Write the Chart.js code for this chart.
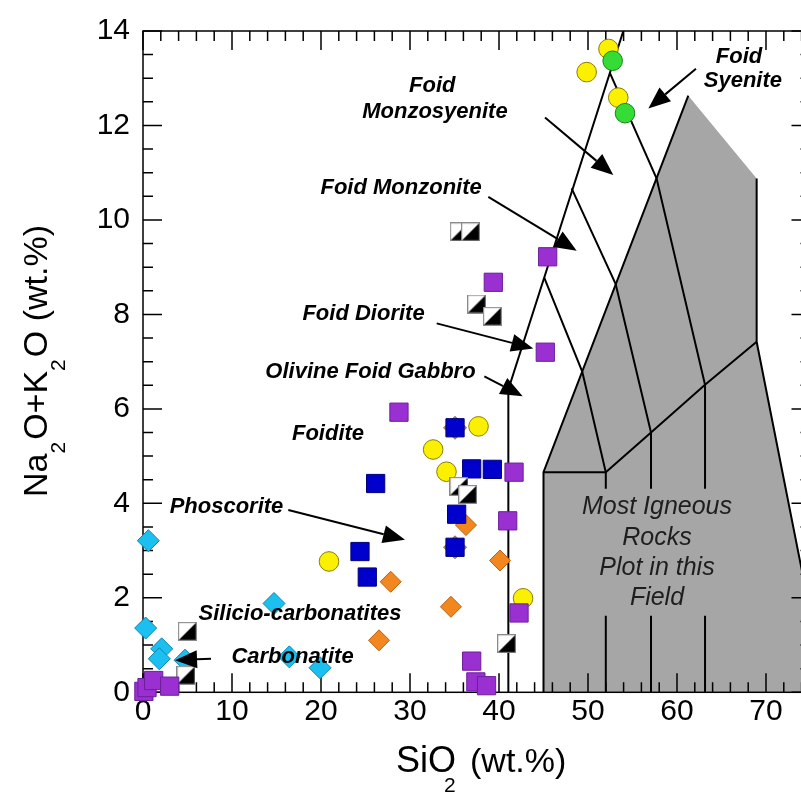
<!DOCTYPE html>
<html><head><meta charset="utf-8">
<script src="https://cdn.jsdelivr.net/npm/chart.js@4.4.1/dist/chart.umd.min.js"></script>
<style>
html,body{margin:0;padding:0;background:#fff;overflow:hidden;}
#wrap{position:relative;width:830px;height:792px;}
</style></head><body>
<div id="wrap"><canvas id="c" width="830" height="792"></canvas></div>
<script>
// ---- tick labels ----
const xTicks = [0,10,20,30,40,50,60,70];
const yTicks = [0,2,4,6,8,10,12,14];

// ---- sample series (SiO2, Na2O+K2O) ----
const yellowCircles = [[20.9,2.77],[32.6,5.14],[34.1,4.67],[37.7,5.63],[42.7,1.99],[49.85,13.13],[52.3,13.62],[53.4,12.59]];
const greenCircles  = [[52.77,13.37],[54.16,12.26]];
const purpleSquares = [[45.47,9.22],[45.2,7.2],[41.69,4.66],[39.36,8.68],[28.76,5.93],[40.98,3.63],[42.25,1.68],[36.93,0.66],[37.4,0.22],[38.6,0.14],[0.1,0.02],[0.45,0.1],[1.2,0.25],[3.0,0.13]];
const blueSquares   = [[35.06,5.6],[36.93,4.73],[39.25,4.72],[26.14,4.42],[35.24,3.77],[35.06,3.07],[24.38,2.98],[25.2,2.44]];
const orangeDiamonds= [[36.29,3.54],[40.11,2.79],[27.83,2.34],[34.6,1.81],[26.52,1.1]];
const brownDiamonds = [[35.06,5.6],[35.06,3.07]];
const cyanDiamonds  = [[0.6,3.21],[0.3,1.36],[2.1,0.92],[1.83,0.71],[4.72,0.68],[14.72,1.88],[16.44,0.75],[19.89,0.52]];
const halfSquares   = [[35.53,9.75],[36.8,9.75],[37.49,8.22],[39.25,7.96],[35.5,4.36],[36.48,4.19],[40.85,1.03],[4.98,1.29],[4.83,0.36]];

// ---- classification field boundaries ----
const fieldLines = [
  [[41.05,0],[41.05,6.41],[53.97,14]],
  [[45.08,8.78],[49.35,6.79],[52.0,4.66]],
  [[48.16,10.67],[53.1,8.65],[57.08,5.5]],
  [[52.47,13.11],[57.7,10.88],[63.15,6.51]],
  [[45,4.66],[52,4.66],[57.08,5.5],[63.15,6.51],[68.95,7.42]],
  [[45,0],[45,4.66],[61.27,12.63]],
  [[68.95,10.88],[68.95,7.42],[76.74,0]],
  [[52,0],[52,1.62]],[[57.08,0],[57.08,1.62]],[[63.15,0],[63.15,1.62]],
  [[52,4.31],[52,4.66]],[[57.08,4.31],[57.08,5.5]],[[63.15,4.31],[63.15,6.51]]
];
const greyField = [[45,4.66],[61.27,12.63],[68.95,10.88],[68.95,7.42],[76.74,0],[45,0]];

// ---- annotations (data units) ----
const regionLabels = [
  ['Foid',66.97,13.46],['Syenite',67.4,12.94],
  ['Foid',32.5,12.84],['Monzosyenite',32.8,12.29],
  ['Foid Monzonite',29.0,10.68],['Foid Diorite',24.78,8.02],
  ['Olivine Foid Gabbro',25.56,6.78],['Foidite',20.79,5.46],
  ['Phoscorite',9.38,3.92],['Silicio-carbonatites',17.64,1.66],
  ['Carbonatite',16.8,0.75]
];
const arrows = [
  [[62.13,13.2],[56.78,12.36]],
  [[45.17,12.17],[52.84,10.95]],
  [[38.8,10.49],[48.73,9.35]],
  [[33.0,7.81],[43.85,7.28]],
  [[38.35,6.69],[42.66,6.27]],
  [[16.33,3.86],[29.44,3.23]],
  [[7.64,0.71],[3.6,0.68]]
];
const fieldNote = [['Most Igneous',57.75,3.93],['Rocks',57.75,3.27],['Plot in this',57.75,2.63],['Field',57.75,1.99]];

const FONT = '"Liberation Sans", Arial, Helvetica, sans-serif';
const pts = a => a.map(p => ({x:p[0], y:p[1]}));

function halfSquareImg(){
  const s = 19, c = document.createElement('canvas'); c.width = s; c.height = s;
  const g = c.getContext('2d');
  g.fillStyle = '#fff'; g.fillRect(0,0,s,s);
  g.fillStyle = '#000'; g.beginPath(); g.moveTo(s-1,1); g.lineTo(s-1,s-1); g.lineTo(1,s-1); g.closePath(); g.fill();
  g.strokeStyle = '#8a8a8a'; g.lineWidth = 1.2; g.strokeRect(0.6,0.6,s-1.2,s-1.2);
  return c;
}

const datasets = [];
datasets.push({type:'line', data:pts(greyField), fill:'shape', backgroundColor:'#a6a6a6', borderWidth:0, pointRadius:0, order:100, isField:true});
fieldLines.forEach(l => datasets.push({type:'line', data:pts(l), borderColor:'#000', borderWidth:2, pointRadius:0, fill:false, tension:0, order:90}));
function scat(data, style, r, bg, bd, order){
  return {type:'scatter', data:pts(data), pointStyle:style, pointRadius:r, pointHoverRadius:r, backgroundColor:bg, borderColor:bd, borderWidth:1, clip:false, order:order};
}
datasets.push(scat(cyanDiamonds,'rectRot',11,'#1cc0f0','#0c86ad',60));
datasets.push(scat(brownDiamonds,'rectRot',11.5,'#a88a74','#8a6a55',58));
datasets.push(scat(orangeDiamonds,'rectRot',10.5,'#f2871f','#b8600e',55));
datasets.push(scat(yellowCircles,'circle',9.8,'#fbf000','#8a7c00',50));
datasets.push(scat(greenCircles,'circle',9.8,'#35dc35','#1c7f1c',45));
datasets.push(scat(blueSquares,'rect',12.9,'#0000cc','#00007a',40));
const hs = halfSquareImg();
datasets.push({type:'scatter', data:pts(halfSquares), pointStyle:hs, pointRadius:9, clip:false, order:35});
datasets.push(scat(purpleSquares,'rect',12.9,'#9a30d2','#6c1f9a',30));

function drawFrame(chart){
  const {ctx, chartArea:a, scales:{x, y}} = chart;
  ctx.save();
  ctx.strokeStyle = '#000'; ctx.lineWidth = 1.5;
  ctx.strokeRect(a.left, a.top, a.right - a.left, a.bottom - a.top);
  ctx.beginPath();
  for (let i = 0; i <= 37; i++) {
    const v = i * 2, px = x.getPixelForValue(v), L = (v % 10 === 0) ? 19 : 10;
    ctx.moveTo(px, a.bottom); ctx.lineTo(px, a.bottom - L);
    ctx.moveTo(px, a.top); ctx.lineTo(px, a.top + L);
  }
  for (let i = 0; i <= 28; i++) {
    const v = i * 0.5, py = y.getPixelForValue(v), L = (i % 4 === 0) ? 19 : 10;
    ctx.moveTo(a.left, py); ctx.lineTo(a.left + L, py);
    ctx.moveTo(a.right, py); ctx.lineTo(a.right - L, py);
  }
  ctx.stroke();
  ctx.restore();
}

function drawArrow(ctx, x0, y0, x1, y1){
  const ang = Math.atan2(y1 - y0, x1 - x0), L = 22, W = 9;
  const bx = x1 - L * Math.cos(ang), by = y1 - L * Math.sin(ang);
  ctx.beginPath(); ctx.moveTo(x0, y0); ctx.lineTo(bx, by); ctx.stroke();
  ctx.beginPath();
  ctx.moveTo(x1, y1);
  ctx.lineTo(bx + W * Math.sin(ang), by - W * Math.cos(ang));
  ctx.lineTo(bx - W * Math.sin(ang), by + W * Math.cos(ang));
  ctx.closePath(); ctx.fill();
}

function drawAnnotations(chart){
  const {ctx, scales:{x, y}} = chart;
  ctx.save();
  ctx.fillStyle = '#000'; ctx.strokeStyle = '#000'; ctx.lineWidth = 2;
  arrows.forEach(a => drawArrow(ctx, x.getPixelForValue(a[0][0]), y.getPixelForValue(a[0][1]), x.getPixelForValue(a[1][0]), y.getPixelForValue(a[1][1])));
  ctx.font = 'italic bold 22px ' + FONT;
  ctx.textAlign = 'center'; ctx.textBaseline = 'middle';
  regionLabels.forEach(l => ctx.fillText(l[0], x.getPixelForValue(l[1]), y.getPixelForValue(l[2])));
  ctx.font = 'italic 25px ' + FONT; ctx.fillStyle = '#1e1e1e';
  fieldNote.forEach(l => ctx.fillText(l[0], x.getPixelForValue(l[1]), y.getPixelForValue(l[2])));
  ctx.restore();
}

function drawTitles(chart){
  const ctx = chart.ctx;
  ctx.save();
  ctx.fillStyle = '#000'; ctx.textBaseline = 'alphabetic'; ctx.textAlign = 'left';
  const big = '34px ' + FONT, small = '21px ' + FONT;
  // x title
  const base = 771.5;
  ctx.font = '36px ' + FONT; ctx.fillText('SiO', 396, base);
  const w1 = ctx.measureText('SiO').width;
  ctx.font = small; ctx.fillText('2', 396 + w1 - 12, base + 20);
  ctx.font = big; ctx.fillText('(wt.%)', 470, base);
  // y title (rotated)
  ctx.translate(47, 497); ctx.rotate(-Math.PI / 2);
  let cx = 0;
  const parts = [['Na',0],['2',1],['O+K',0],['2',1],['O (wt.%)',0]];
  parts.forEach(p => {
    ctx.font = p[1] ? small : big;
    ctx.fillText(p[0], cx, p[1] ? 18 : 0);
    cx += ctx.measureText(p[0]).width + (p[1] ? 2 : 0);
  });
  ctx.restore();
}

const decor = {
  id: 'decor',
  afterDatasetDraw(chart, args){ if (chart.data.datasets[args.index].isField) drawFrame(chart); },
  afterDatasetsDraw(chart){ drawAnnotations(chart); },
  afterDraw(chart){ drawTitles(chart); }
};

new Chart(document.getElementById('c'), {
  type: 'scatter',
  data: { datasets },
  plugins: [decor],
  options: {
    responsive: false, animation: false, events: [],
    layout: { padding: { left: 0, right: 19.5, top: 24.3, bottom: 0 } },
    plugins: { legend: { display: false }, tooltip: { enabled: false } },
    scales: {
      x: {
        type: 'linear', min: 0, max: 75,
        afterBuildTicks: s => { s.ticks = xTicks.map(v => ({ value: v })); },
        afterFit: s => { s.height = 99.7; },
        grid: { display: false, drawTicks: false }, border: { display: false },
        ticks: { font: { family: FONT, size: 30 }, color: '#000', padding: 1, maxRotation: 0, autoSkip: false }
      },
      y: {
        type: 'linear', min: 0, max: 14,
        afterBuildTicks: s => { s.ticks = yTicks.map(v => ({ value: v })); },
        afterFit: s => { s.width = 143; },
        grid: { display: false, drawTicks: false }, border: { display: false },
        ticks: { font: { family: FONT, size: 30 }, color: '#000', padding: 13, autoSkip: false }
      }
    }
  }
});
</script>
</body></html>
